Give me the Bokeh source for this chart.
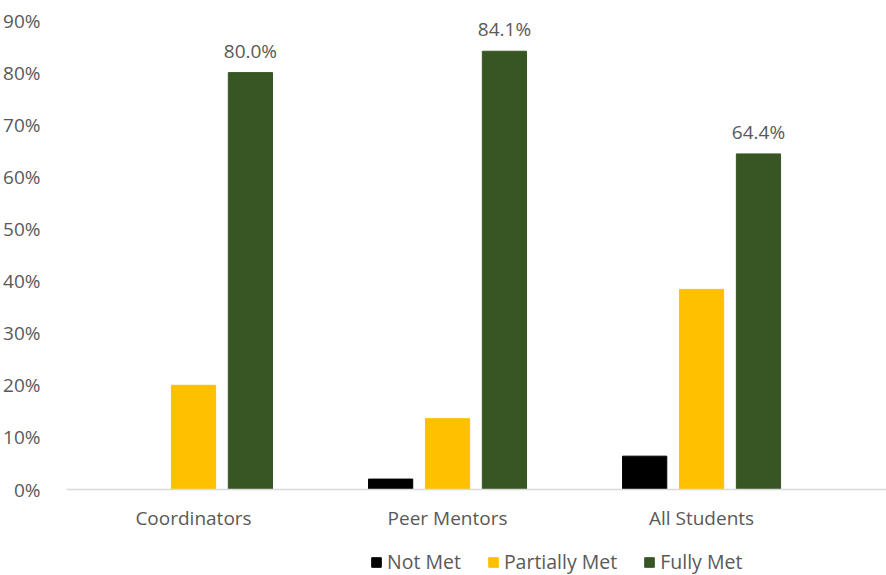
from bokeh.plotting import figure
from bokeh.models import (ColumnDataSource, Range1d, FixedTicker, PrintfTickFormatter, LabelSet,
                          Legend, LegendItem, Span)
from bokeh.core.properties import value
from bokeh.transform import dodge
from bokeh.embed import file_html
from bokeh.resources import INLINE

categories = ["Coordinators", "Peer Mentors", "All Students"]
series = ["Not Met", "Partially Met", "Fully Met"]
not_met = [0.0, 2.0, 6.4]
partially_met = [20.0, 13.6, 38.4]
fully_met = [80.0, 84.1, 64.4]
y_ticks = [0, 10, 20, 30, 40, 50, 60, 70, 80, 90]
colors = ["#000000", "#FFC000", "#375623"]

FONT = "Open Sans"
TXT = "#595959"

idx = list(range(len(categories)))
src = ColumnDataSource(dict(
    x=idx,
    y0=[0] * len(categories),
    cat=categories,
    not_met=not_met,
    partially_met=partially_met,
    fully_met=fully_met,
    fully_lbl=["%.1f%%" % v for v in fully_met],
))

# frame extends below zero so the legend fits inside it
p = figure(width=886, height=575, output_backend="svg", toolbar_location=None,
           x_range=Range1d(-0.5, 2.728), y_range=Range1d(-16.5, 90),
           x_axis_location=None,
           min_border_left=66, min_border_right=0, min_border_top=20, min_border_bottom=0)
p.outline_line_color = None
p.xgrid.visible = False
p.ygrid.visible = False

w = 0.174
off = 0.224
keys = ["not_met", "partially_met", "fully_met"]
renderers = []
for k, c, o in zip(keys, colors, [-off, 0.0, off]):
    r = p.vbar(x=dodge("x", o, range=p.x_range), top=k, width=w, bottom=0,
               source=src, fill_color=c, line_color=c)
    renderers.append(r)

# category axis line at zero
p.add_layout(Span(location=0, dimension="width", line_color="#D9D9D9", line_width=1.5))

# category labels
cat_labels = LabelSet(x="x", y="y0", text="cat", source=src, text_align="center",
                      text_baseline="middle", y_offset=-28,
                      text_font=value(FONT), text_font_size="19px", text_color=TXT)
p.add_layout(cat_labels)

labels = LabelSet(x=dodge("x", off, range=p.x_range), y="fully_met", text="fully_lbl",
                  source=src, text_align="center", text_baseline="bottom", y_offset=9,
                  text_font=value(FONT), text_font_size="19px", text_color=TXT)
p.add_layout(labels)

p.yaxis.ticker = FixedTicker(ticks=y_ticks)
p.yaxis.formatter = PrintfTickFormatter(format="%d%%")
p.yaxis.axis_line_color = None
p.yaxis.major_tick_line_color = None
p.yaxis.minor_tick_line_color = None
p.yaxis.major_label_standoff = 20
p.yaxis.major_label_text_font = FONT
p.yaxis.major_label_text_font_size = "19px"
p.yaxis.major_label_text_color = TXT

legend = Legend(items=[LegendItem(label=s, renderers=[r]) for s, r in zip(series, renderers)],
                orientation="horizontal", location=(304, 0),
                glyph_width=12, glyph_height=12, label_standoff=5, spacing=26,
                padding=0, margin=0, border_line_color=None, background_fill_alpha=0,
                label_text_font=FONT, label_text_font_size="19.5px", label_text_color=TXT,
                label_height=20)
p.add_layout(legend, "center")

open("out.html", "w").write(file_html(p, INLINE))
